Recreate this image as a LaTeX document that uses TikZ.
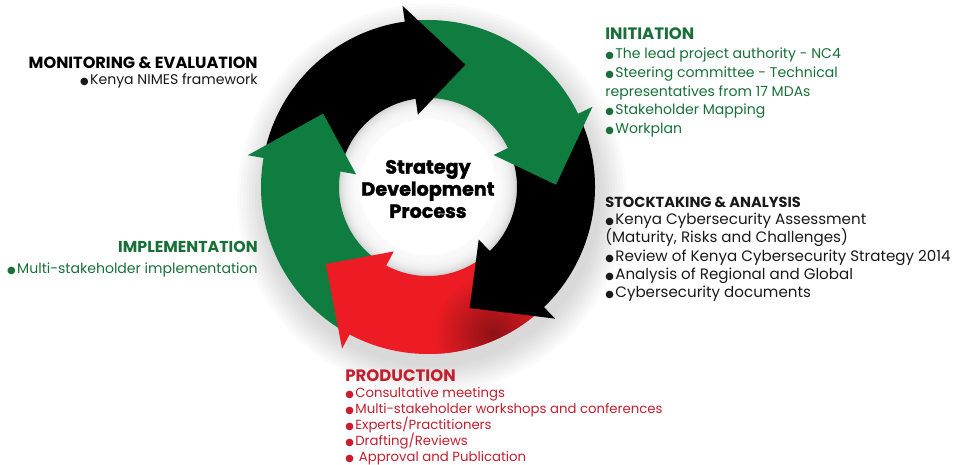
\documentclass[tikz,border=0pt]{standalone}
\usepackage{fontspec}
\setmainfont{Poppins}
\newfontfamily\heavyfont{Poppins}[BoldFeatures={FakeBold=1.6}]
\newfontfamily\dotfont{DejaVu Sans}
\usetikzlibrary{positioning}
\definecolor{kgreen}{RGB}{14,125,63}
\definecolor{kred}{RGB}{237,28,36}
\definecolor{tgreen}{RGB}{24,112,56}
\definecolor{tred}{RGB}{196,30,45}
\definecolor{tblack}{RGB}{25,25,25}
\newcommand{\bul}{{\dotfont\fontsize{5.6}{5}\selectfont ●}\hspace{0.8pt}}

\begin{document}
\begin{tikzpicture}[x=0.02cm, y=0.02cm,
    head/.style={font=\bfseries\fontsize{9.3}{10}\selectfont, inner sep=0pt},
    items/.style={font=\fontsize{8.0}{10.7}\selectfont, inner sep=0pt, align=left},
    smallitems/.style={font=\fontsize{7.55}{9.1}\selectfont, inner sep=0pt, align=left},
    title/.style={font=\heavyfont\bfseries\fontsize{10.9}{12.6}\selectfont, align=center}]
  \useasboundingbox (0,0) rectangle (959,464);

  % soft shadow round the ring
  \foreach \r in {168,171,...,195}
    \fill[black, opacity=0.016] (432,266) circle (\r);
  \begin{scope}[shift={(428,277)}]
    % shadow inside the hole
    \fill[black!16] (0,0) circle (89);
    \foreach \r in {87,85,...,69}
      \fill[white, opacity=0.25] (0,0) circle (\r);
    \fill[white] (0,0) circle (68);
    % ring bodies
    \foreach \col/\from/\to in {black/168/96, kgreen/96/24, black/24/-48, kred/-48/-120, kgreen/-120/-192}
      \fill[\col] (\from:167) arc[start angle=\from, end angle=\to, radius=167]
        -- (\to:89) arc[start angle=\to, end angle=\from, radius=89] -- cycle;
    % darker red under the black head
    \begin{scope}
      \clip (-48:167) arc[start angle=-48, end angle=-120, radius=167]
        -- (-120:89) arc[start angle=-120, end angle=-48, radius=89] -- cycle;
      \shade[inner color=kred!60!black, outer color=kred] (-66:160) circle (60);
    \end{scope}
    % arrow heads
    \foreach \col/\b in {black/98, kgreen/26, black/-46, kred/-118, kgreen/-190}
      \fill[\col] (\b:183) -- (\b-25:128) -- (\b:73) -- cycle;
  \end{scope}

  \node[title] (core) at (428,275) {Strategy\\Development\\Process};

  % monitoring and evaluation
  \node[head, font=\bfseries\fontsize{9.2}{10}\selectfont, anchor=base east] (mon) at (258,396) {MONITORING \& EVALUATION};
  \node[items, text=tblack, below=3pt of mon.south east, anchor=north east] (monitems)
    {\bul Kenya NIMES framework};

  % initiation
  \node[head, text=tgreen, font=\bfseries\fontsize{9.4}{10}\selectfont, anchor=base west] (ini) at (605,424) {INITIATION};
  \node[items, text=tgreen, below=4pt of ini.south west, anchor=north west] (iniitems)
    {\bul The lead project authority - NC4\\
     \bul Steering committee - Technical\\
     representatives from 17 MDAs\\
     \bul Stakeholder Mapping\\
     \bul Workplan};

  % stocktaking and analysis
  \node[head, text=tblack, font=\bfseries\fontsize{8.3}{10}\selectfont, anchor=base west] (stock) at (605,257) {STOCKTAKING \& ANALYSIS};
  \node[items, text=tblack, font=\fontsize{8.6}{10.4}\selectfont, below=3pt of stock.south west, anchor=north west] (stockitems)
    {\bul Kenya Cybersecurity Assessment\\
     (Maturity, Risks and Challenges)\\
     \bul Review of Kenya Cybersecurity Strategy 2014\\
     \bul Analysis of Regional and Global\\
     \bul Cybersecurity documents};

  % implementation
  \node[head, text=tgreen, font=\bfseries\fontsize{9.0}{10}\selectfont, anchor=base east] (impl) at (258,212) {IMPLEMENTATION};
  \node[items, text=tgreen, below=5.5pt of impl.south east, anchor=north east] (implitems)
    {\bul Multi-stakeholder implementation};

  % production
  \node[head, text=tred, font=\bfseries\fontsize{9.4}{10}\selectfont, anchor=base west] (prod) at (345,83) {PRODUCTION};
  \node[smallitems, text=tred, below=3pt of prod.south west, anchor=north west] (proditems)
    {\bul Consultative meetings\\
     \bul Multi-stakeholder workshops and conferences\\
     \bul Experts/Practitioners\\
     \bul Drafting/Reviews\\
     \bul\ Approval and Publication};
\end{tikzpicture}
\end{document}
